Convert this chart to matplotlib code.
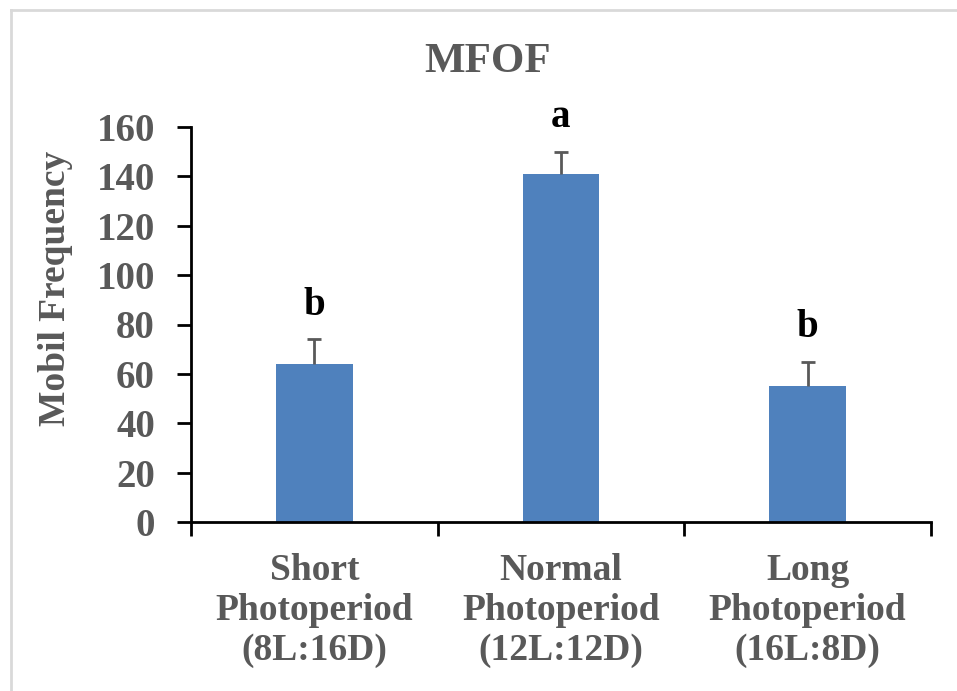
import matplotlib
matplotlib.use("Agg")
import matplotlib.pyplot as plt
from matplotlib.lines import Line2D

categories = ["Short\nPhotoperiod\n(8L:16D)", "Normal\nPhotoperiod\n(12L:12D)", "Long\nPhotoperiod\n(16L:8D)"]
values = [64, 141, 55]
errors = [10, 9, 10]
letters = ["b", "a", "b"]
yticks = [0, 20, 40, 60, 80, 100, 120, 140, 160]

plt.rcParams['font.family'] = ['Liberation Serif', 'DejaVu Serif']

fig = plt.figure(figsize=(9.57, 6.91), dpi=100)
ax = fig.add_axes([191/957, 169/691, 740/957, 395/691])

gray = "#595959"
x = [0, 1, 2]
ax.bar(x, values, width=0.31, color="#4F81BD", zorder=2)
tops = [v + e for v, e in zip(values, errors)]
ax.vlines(x, values, tops, colors=gray, linewidth=2, zorder=3)
ax.hlines(tops, [xi - 0.028 for xi in x], [xi + 0.028 for xi in x],
          colors=gray, linewidth=2, zorder=3)
for xi, t, l in zip(x, tops, letters):
    ax.text(xi, t + 10, l, ha="center", va="baseline", fontsize=28,
            fontweight="bold", color="black")

ax.set_xlim(-0.5, 2.5)
ax.set_ylim(0, 160)
ax.set_yticks(yticks)
ax.set_xticks([-0.5, 0.5, 1.5, 2.5])
ax.set_xticklabels([])
ax.set_xticks(x, minor=True)
ax.set_xticklabels(categories, minor=True, fontsize=27, fontweight="bold",
                   color=gray, linespacing=1.2)
ax.tick_params(axis="x", which="minor", length=0, pad=22)
ax.tick_params(axis="x", which="major", length=10, width=2, direction="out", color="black")
ax.tick_params(axis="y", length=10, width=2, direction="out", color="black",
               labelsize=28, labelcolor=gray, pad=16)
for lab in ax.get_yticklabels():
    lab.set_fontweight("bold")

for s in ["top", "right"]:
    ax.spines[s].set_visible(False)
ax.spines["left"].set_linewidth(2)
ax.spines["bottom"].set_linewidth(2)

ax.set_ylabel("Mobil Frequency", fontsize=27, fontweight="bold", color=gray, labelpad=14)
ax.yaxis.set_label_coords(-0.16, 0.592)
fig.text(488/957, 1 - 62/691, "MFOF", ha="center", va="center", fontsize=31,
         fontweight="bold", color=gray)

# outer border
fig.add_artist(Line2D([11/957, 11/957], [0, 1 - 10/691], transform=fig.transFigure,
                      color="#d9d9d9", lw=2))
fig.add_artist(Line2D([11/957, 1], [1 - 10/691, 1 - 10/691], transform=fig.transFigure,
                      color="#d9d9d9", lw=2))

fig.savefig("out.png", dpi=100)
